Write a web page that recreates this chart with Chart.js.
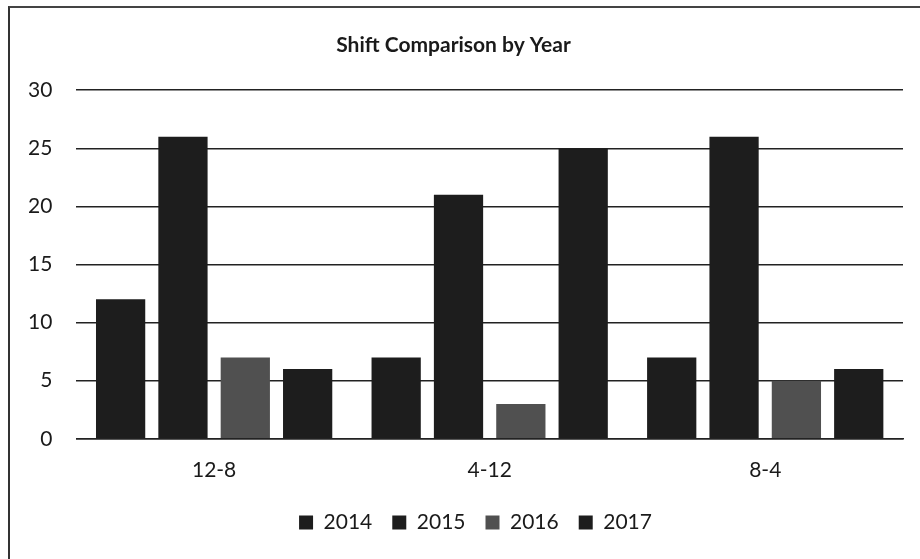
<!DOCTYPE html>
<html lang="en">
<head>
    <meta charset="UTF-8">
    <title>Shift Comparison by Year</title>
    <script src="https://cdn.jsdelivr.net/npm/chart.js"></script>
    <style>
        body {
            margin: 0;
            background: #ffffff;
        }
        .wrap {
            position: relative;
            width: 920px;
            height: 559px;
        }
        /* scanned frame: only top and left edges show */
        .frame {
            position: absolute;
            left: 8px;
            top: 6px;
            right: 0;
            bottom: 0;
            border-top: 2px solid #444;
            border-left: 2px solid #333;
        }
        canvas {
            position: absolute;
            left: 0;
            top: 0;
        }
    </style>
</head>
<body>

<div class="wrap">
    <div class="frame"></div>
    <canvas id="shiftChart" width="920" height="559"></canvas>
</div>

<script>
    const shifts = ['12-8', '4-12', '8-4'];
    const years = ['2014', '2015', '2016', '2017'];

    const counts2014 = [12, 7, 7];
    const counts2015 = [26, 21, 26];
    const counts2016 = [7, 3, 5];
    const counts2017 = [6, 25, 6];

    const yTicks = [0, 5, 10, 15, 20, 25, 30];

    const dark = '#1d1d1d';
    const grey = '#505050';

    const series = [counts2014, counts2015, counts2016, counts2017];
    const colors = [dark, dark, grey, dark];

    const font = 'Lato';

    // legend in the original sits a bit right of centre
    const legendShift = {
        id: 'legendShift',
        afterLayout(chart) {
            chart.legend.left += 22;
            chart.legend.right += 22;
        }
    };

    new Chart(document.getElementById('shiftChart'), {
        type: 'bar',
        data: {
            labels: shifts,
            datasets: years.map((y, i) => ({
                label: y,
                data: series[i],
                backgroundColor: colors[i],
                borderWidth: 0,
                barPercentage: 0.79,
                categoryPercentage: 0.905
            }))
        },
        options: {
            responsive: false,
            animation: false,
            layout: {
                padding: { left: 4, right: 17, top: 22, bottom: 16 }
            },
            plugins: {
                title: {
                    display: true,
                    text: 'Shift Comparison by Year',
                    color: '#1a1a1a',
                    font: { family: font, size: 21, weight: 'bold' },
                    padding: { top: 11, bottom: 32 }
                },
                legend: {
                    position: 'bottom',
                    labels: {
                        color: '#1a1a1a',
                        font: { family: font, size: 21 },
                        boxWidth: 14,
                        boxHeight: 14,
                        padding: 20
                    }
                },
                tooltip: { enabled: false }
            },
            scales: {
                x: {
                    grid: { display: false, drawTicks: false },
                    border: { color: '#222', width: 1.5 },
                    ticks: {
                        color: '#1a1a1a',
                        font: { family: font, size: 21 },
                        padding: 19
                    },
                    // pull the legend closer to the category labels
                    afterFit: s => { s.height -= 10; }
                },
                y: {
                    min: 0,
                    max: 30,
                    afterBuildTicks: axis => {
                        axis.ticks = yTicks.map(v => ({ value: v }));
                    },
                    grid: {
                        color: '#222',
                        lineWidth: 1.5,
                        drawTicks: false
                    },
                    border: { display: false },
                    ticks: {
                        color: '#1a1a1a',
                        font: { family: font, size: 21 },
                        padding: 24
                    }
                }
            }
        },
        plugins: [legendShift]
    });
</script>

</body>
</html>
